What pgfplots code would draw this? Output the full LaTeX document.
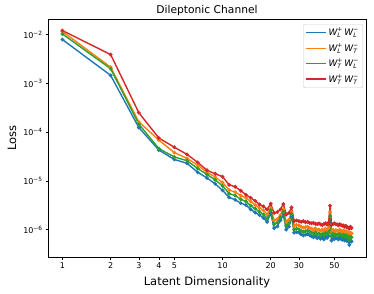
\documentclass[border=0pt]{standalone}
\usepackage{amsmath}
\usepackage{pgfplots}
\pgfplotsset{compat=1.18}
\usepackage{fontspec}
\setmainfont{DejaVu Sans}
\definecolor{tabblue}{HTML}{1F77B4}
\definecolor{taborange}{HTML}{FF7F0E}
\definecolor{tabgreen}{HTML}{2CA02C}
\definecolor{tabred}{HTML}{D62728}
\newcommand{\WW}[2]{$\textit{W}^{\text{+}}_{\textit{#1}}\,\textit{W}^{\text{−}}_{\textit{#2}}$}
\newcommand{\TT}[1]{10\raisebox{0.75ex}{\fontsize{5.8}{6}\selectfont −#1}}
\begin{document}
\begin{tikzpicture}
\useasboundingbox (-48pt,-36pt) rectangle (326pt,257pt);
\begin{axis}[
  at={(0,0)}, anchor=south west,
  scale only axis, width=318pt, height=238pt,
  xmode=log, ymode=log,
  xmin=0.812, xmax=78.8, ymin=2.75e-7, ymax=0.0209,
  xtick={1,2,3,4,5,10,20,30,50},
  xticklabels={1,2,3,4,5,10,20,30,50},
  ytick={1e-6,1e-5,1e-4,1e-3,1e-2},
  yticklabels={\TT{6},\TT{5},\TT{4},\TT{3},\TT{2}},
  xminorticks=false, yminorticks=false,
  tick align=outside, tick pos=left,
  major tick length=2.5pt,
  tick style={black, line width=0.6pt},
  axis line style={black, line width=0.6pt},
  ticklabel style={font=\fontsize{8}{9}\selectfont},
  every axis title shift=0pt,
  title={Dileptonic Channel},
  title style={font=\fontsize{10.7}{12}\selectfont, at={(axis description cs:0.5,1.034)}, anchor=center},
  xlabel={Latent Dimensionality},
  xlabel style={font=\fontsize{11.5}{13}\selectfont, at={(axis description cs:0.5,-0.105)}, anchor=center},
  ylabel={Loss},
  ylabel style={font=\fontsize{11.5}{13}\selectfont, at={(axis description cs:-0.113,0.5)}, anchor=center},
  legend style={at={(axis description cs:0.9906,0.979)}, anchor=north east,
    draw=black!20, rounded corners=1.5pt, fill=white, fill opacity=0.8, text opacity=1,
    font=\fontsize{9}{10}\selectfont, inner sep=2.5pt, row sep=3.3pt,
    nodes={inner sep=1.4pt}},
  legend cell align=left,
  legend image code/.code={\draw[#1, mark=none, line width=1.4pt] (0pt,0pt) -- (20pt,0pt);},
  every axis plot/.append style={line width=1.4pt, mark=*, mark size=1.1pt, mark options={solid}},
]
\addplot[color=tabblue] coordinates {
(1,7.9e-3)(2,1.46e-3)(3,1.24e-4)(4,4.3e-5)(5,2.75e-5)(6,2.3e-5)(7,1.5e-5)(8,1.15e-5)(9,8.7e-6)(10,6.4e-6)
(11,4.6e-6)(12,4.1e-6)(13,3.5e-6)(14,3.2e-6)(15,2.6e-6)(16,2.25e-6)(17,2.0e-6)(18,1.75e-6)(19,1.45e-6)(20,2.2e-6)
(21,1.07e-6)(22,1.17e-6)(23,1.55e-6)(24,2.0e-6)(25,1.0e-6)(26,1.15e-6)(27,1.85e-6)(28,8.7e-7)(29,8.9e-7)(30,8.8e-7)
(31,8.0e-7)(32,7.6e-7)(33,7.9e-7)(34,8.1e-7)(35,7.7e-7)(36,7.3e-7)(37,7.0e-7)(38,7.5e-7)(39,6.7e-7)(40,7.0e-7)
(41,6.5e-7)(42,6.9e-7)(43,6.3e-7)(44,7.2e-7)(45,6.8e-7)(46,7.4e-7)(47,1.4e-6)(48,6.0e-7)(49,7.0e-7)(50,6.4e-7)
(51,6.8e-7)(52,6.6e-7)(53,6.3e-7)(54,6.9e-7)(55,6.5e-7)(56,6.2e-7)(57,6.6e-7)(58,6.0e-7)(59,6.4e-7)(60,5.8e-7)
(61,6.1e-7)(62,4.9e-7)(63,6.0e-7)(64,5.7e-7)};
\addlegendentry{\WW{L}{L}}
\addplot[color=taborange] coordinates {
(1,1.16e-2)(2,2.15e-3)(3,1.62e-4)(4,6.9e-5)(5,3.8e-5)(6,2.9e-5)(7,2.1e-5)(8,1.5e-5)(9,1.2e-5)(10,9.3e-6)
(11,6.5e-6)(12,5.9e-6)(13,5.0e-6)(14,4.5e-6)(15,3.8e-6)(16,3.2e-6)(17,2.8e-6)(18,2.5e-6)(19,2.05e-6)(20,2.75e-6)
(21,1.55e-6)(22,1.65e-6)(23,2.0e-6)(24,2.6e-6)(25,1.45e-6)(26,1.6e-6)(27,2.3e-6)(28,1.2e-6)(29,1.25e-6)(30,1.22e-6)
(31,1.15e-6)(32,1.1e-6)(33,1.12e-6)(34,1.15e-6)(35,1.08e-6)(36,1.05e-6)(37,1.0e-6)(38,1.06e-6)(39,9.8e-7)(40,1.0e-6)
(41,9.5e-7)(42,1.0e-6)(43,9.2e-7)(44,1.05e-6)(45,9.6e-7)(46,1.08e-6)(47,2.3e-6)(48,9.0e-7)(49,1.0e-6)(50,9.3e-7)
(51,9.8e-7)(52,9.5e-7)(53,9.1e-7)(54,1.0e-6)(55,9.4e-7)(56,9.0e-7)(57,9.6e-7)(58,8.8e-7)(59,9.3e-7)(60,8.5e-7)
(61,8.9e-7)(62,7.5e-7)(63,8.6e-7)(64,8.4e-7)};
\addlegendentry{\WW{L}{T}}
\addplot[color=tabgreen] coordinates {
(1,1.03e-2)(2,2.0e-3)(3,1.46e-4)(4,4.6e-5)(5,3.1e-5)(6,2.6e-5)(7,1.8e-5)(8,1.35e-5)(9,1.05e-5)(10,7.9e-6)
(11,5.5e-6)(12,5.0e-6)(13,4.2e-6)(14,3.8e-6)(15,3.1e-6)(16,2.7e-6)(17,2.35e-6)(18,2.05e-6)(19,1.7e-6)(20,2.5e-6)
(21,1.3e-6)(22,1.4e-6)(23,1.8e-6)(24,2.35e-6)(25,1.2e-6)(26,1.35e-6)(27,2.1e-6)(28,1.0e-6)(29,1.05e-6)(30,1.02e-6)
(31,9.5e-7)(32,9.0e-7)(33,9.3e-7)(34,9.6e-7)(35,9.1e-7)(36,8.7e-7)(37,8.3e-7)(38,8.8e-7)(39,8.0e-7)(40,8.3e-7)
(41,7.8e-7)(42,8.2e-7)(43,7.6e-7)(44,8.6e-7)(45,8.0e-7)(46,8.9e-7)(47,1.9e-6)(48,7.3e-7)(49,8.3e-7)(50,7.7e-7)
(51,8.1e-7)(52,7.9e-7)(53,7.6e-7)(54,8.2e-7)(55,7.8e-7)(56,7.4e-7)(57,7.9e-7)(58,7.2e-7)(59,7.7e-7)(60,7.0e-7)
(61,7.3e-7)(62,6.2e-7)(63,7.1e-7)(64,7.0e-7)};
\addlegendentry{\WW{T}{L}}
\addplot[color=tabred] coordinates {
(1,1.21e-2)(2,3.9e-3)(3,2.5e-4)(4,7.6e-5)(5,4.9e-5)(6,3.5e-5)(7,2.4e-5)(8,1.65e-5)(9,1.4e-5)(10,1.22e-5)
(11,8.3e-6)(12,7.6e-6)(13,6.3e-6)(14,5.2e-6)(15,4.5e-6)(16,3.9e-6)(17,3.3e-6)(18,3.0e-6)(19,2.6e-6)(20,3.4e-6)
(21,2.2e-6)(22,2.3e-6)(23,2.6e-6)(24,3.35e-6)(25,2.05e-6)(26,2.2e-6)(27,2.85e-6)(28,1.5e-6)(29,1.55e-6)(30,1.5e-6)
(31,1.45e-6)(32,1.5e-6)(33,1.42e-6)(34,1.45e-6)(35,1.38e-6)(36,1.35e-6)(37,1.38e-6)(38,1.32e-6)(39,1.3e-6)(40,1.34e-6)
(41,1.28e-6)(42,1.25e-6)(43,1.3e-6)(44,1.35e-6)(45,1.27e-6)(46,1.4e-6)(47,3.1e-6)(48,1.25e-6)(49,1.3e-6)(50,1.35e-6)
(51,1.3e-6)(52,1.28e-6)(53,1.22e-6)(54,1.3e-6)(55,1.25e-6)(56,1.2e-6)(57,1.22e-6)(58,1.15e-6)(59,1.2e-6)(60,1.12e-6)
(61,1.1e-6)(62,1.05e-6)(63,1.15e-6)(64,1.08e-6)};
\addlegendentry{\WW{T}{T}}
\end{axis}
\end{tikzpicture}
\end{document}
